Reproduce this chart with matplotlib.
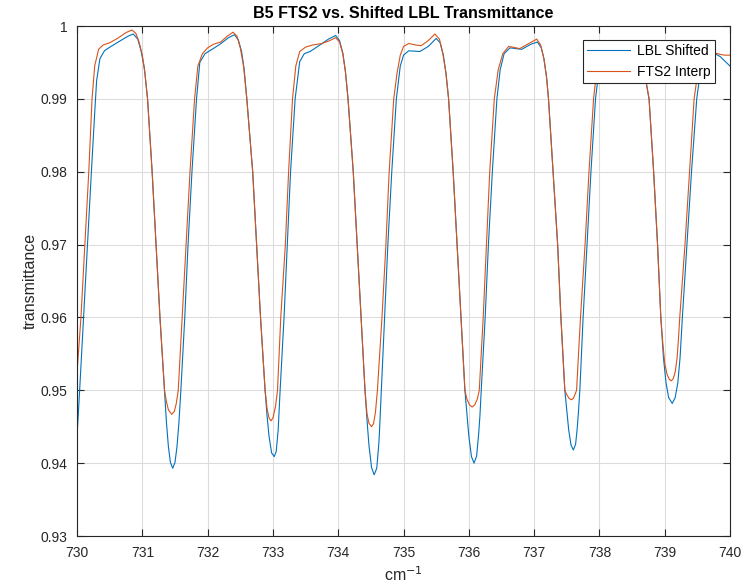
import numpy as np
import matplotlib
matplotlib.use("Agg")
import matplotlib.pyplot as plt

# LBL Shifted (blue): (wavenumber, transmittance)
lbl_pts = [
    (730.00, 0.9437), (730.04, 0.9500), (730.10, 0.9600), (730.16, 0.9700), (730.22, 0.9800),
    (730.27, 0.9880), (730.30, 0.9925), (730.35, 0.9955), (730.42, 0.9966), (730.52, 0.9972),
    (730.65, 0.9979), (730.78, 0.9986), (730.86, 0.9989), (730.93, 0.9982), (730.98, 0.9966),
    (731.03, 0.9943), (731.08, 0.9900), (731.15, 0.9800), (731.21, 0.9700), (731.27, 0.9600),
    (731.34, 0.9500), (731.37, 0.9455), (731.40, 0.9422), (731.43, 0.9401), (731.465, 0.9393),
    (731.50, 0.9401), (731.53, 0.9422), (731.56, 0.9455), (731.59, 0.9500), (731.65, 0.9600),
    (731.70, 0.9700), (731.76, 0.9800), (731.83, 0.9900), (731.88, 0.9950), (731.96, 0.9962),
    (732.05, 0.9967), (732.19, 0.9975), (732.32, 0.9984), (732.41, 0.9988), (732.47, 0.9981),
    (732.52, 0.9965), (732.56, 0.9940), (732.60, 0.9900), (732.69, 0.9800), (732.75, 0.9700),
    (732.81, 0.9600), (732.88, 0.9500), (732.91, 0.9465), (732.94, 0.9437), (732.98, 0.9414),
    (733.02, 0.9409), (733.05, 0.9416), (733.08, 0.9445), (733.11, 0.9500), (733.17, 0.9600),
    (733.22, 0.9700), (733.27, 0.9800), (733.34, 0.9900), (733.41, 0.9951), (733.48, 0.9962),
    (733.57, 0.9965), (733.72, 0.9974), (733.85, 0.9982), (733.96, 0.9987), (734.02, 0.9980),
    (734.07, 0.9963), (734.11, 0.9938), (734.15, 0.9900), (734.23, 0.9800), (734.29, 0.9700),
    (734.35, 0.9600), (734.41, 0.9500), (734.44, 0.9460), (734.47, 0.9425), (734.51, 0.9394),
    (734.55, 0.9384), (734.59, 0.9393), (734.62, 0.9425), (734.63, 0.9440), (734.66, 0.9500),
    (734.71, 0.9600), (734.76, 0.9700), (734.82, 0.9800), (734.89, 0.9900), (734.95, 0.9945),
    (735.00, 0.9960), (735.08, 0.9966), (735.25, 0.9965), (735.38, 0.9972), (735.50, 0.9983),
    (735.56, 0.9977), (735.61, 0.9960), (735.65, 0.9935), (735.69, 0.9900), (735.76, 0.9800),
    (735.82, 0.9700), (735.88, 0.9600), (735.94, 0.9500), (735.97, 0.9468), (736.00, 0.9437),
    (736.04, 0.9409), (736.08, 0.9400), (736.12, 0.9410), (736.15, 0.9440), (736.17, 0.9465),
    (736.19, 0.9500), (736.25, 0.9600), (736.30, 0.9700), (736.36, 0.9800), (736.43, 0.9900),
    (736.48, 0.9940), (736.54, 0.9962), (736.63, 0.9970), (736.81, 0.9968), (736.95, 0.9975),
    (737.05, 0.9978), (737.11, 0.9970), (737.15, 0.9955), (737.19, 0.9930), (737.22, 0.9900),
    (737.29, 0.9800), (737.36, 0.9700), (737.41, 0.9600), (737.47, 0.9500), (737.50, 0.9472),
    (737.53, 0.9445), (737.565, 0.9425), (737.60, 0.9418), (737.635, 0.9426), (737.66, 0.9448),
    (737.68, 0.9472), (737.70, 0.9500), (737.75, 0.9600), (737.81, 0.9700), (737.87, 0.9800),
    (737.94, 0.9900), (738.00, 0.9945), (738.08, 0.9958), (738.20, 0.9963), (738.35, 0.9968),
    (738.50, 0.9974), (738.58, 0.9976), (738.63, 0.9968), (738.67, 0.9950), (738.71, 0.9925),
    (738.76, 0.9900), (738.83, 0.9800), (738.89, 0.9700), (738.94, 0.9600), (738.98, 0.9545),
    (739.02, 0.9510), (739.06, 0.9490), (739.115, 0.9482), (739.16, 0.9490), (739.20, 0.9510),
    (739.235, 0.9545), (739.27, 0.9600), (739.34, 0.9700), (739.41, 0.9800), (739.49, 0.9900),
    (739.55, 0.9940), (739.62, 0.9955), (739.70, 0.9960), (739.77, 0.9962), (739.85, 0.9958),
    (739.92, 0.9952), (740.00, 0.9945),
]

# FTS2 Interp (orange)
fts_pts = [
    (730.00, 0.9524), (730.06, 0.9600), (730.12, 0.9700), (730.18, 0.9800), (730.23, 0.9900),
    (730.27, 0.9945), (730.33, 0.9968), (730.40, 0.9974), (730.50, 0.9977), (730.62, 0.9983),
    (730.75, 0.9991), (730.84, 0.99945), (730.90, 0.9990), (730.95, 0.9978), (731.00, 0.9960),
    (731.04, 0.9935), (731.08, 0.9900), (731.15, 0.9800), (731.21, 0.9700), (731.27, 0.9600),
    (731.34, 0.9500), (731.37, 0.9484), (731.40, 0.9473), (731.45, 0.9467), (731.49, 0.9471),
    (731.52, 0.9482), (731.55, 0.9500), (731.61, 0.9600), (731.67, 0.9700), (731.73, 0.9800),
    (731.80, 0.9900), (731.85, 0.9945), (731.92, 0.9962), (732.00, 0.9970), (732.09, 0.9975),
    (732.20, 0.9978), (732.30, 0.9986), (732.39, 0.99915), (732.45, 0.9986), (732.50, 0.9970),
    (732.55, 0.9945), (732.60, 0.9900), (732.69, 0.9800), (732.75, 0.9700), (732.81, 0.9600),
    (732.88, 0.9500), (732.91, 0.9475), (732.94, 0.9462), (732.97, 0.9458), (733.00, 0.9462),
    (733.04, 0.9478), (733.07, 0.9500), (733.12, 0.9600), (733.19, 0.9700), (733.24, 0.9800),
    (733.30, 0.9900), (733.35, 0.9945), (733.41, 0.9965), (733.50, 0.9971), (733.61, 0.9974),
    (733.75, 0.9976), (733.87, 0.9980), (733.96, 0.9984), (734.02, 0.9978), (734.07, 0.9962),
    (734.11, 0.9937), (734.15, 0.9900), (734.23, 0.9800), (734.29, 0.9700), (734.35, 0.9600),
    (734.41, 0.9500), (734.44, 0.9468), (734.47, 0.9455), (734.51, 0.9450), (734.54, 0.9454),
    (734.57, 0.9470), (734.60, 0.9500), (734.67, 0.9600), (734.73, 0.9700), (734.78, 0.9800),
    (734.85, 0.9900), (734.90, 0.9935), (734.95, 0.9960), (735.00, 0.9972), (735.08, 0.9976),
    (735.18, 0.9974), (735.27, 0.9973), (735.38, 0.9980), (735.48, 0.9989), (735.55, 0.9982),
    (735.60, 0.9963), (735.65, 0.9935), (735.69, 0.9900), (735.76, 0.9800), (735.82, 0.9700),
    (735.88, 0.9600), (735.94, 0.9500), (735.97, 0.9488), (736.01, 0.9480), (736.05, 0.9477),
    (736.09, 0.9480), (736.13, 0.9488), (736.16, 0.9500), (736.22, 0.9600), (736.27, 0.9700),
    (736.32, 0.9800), (736.39, 0.9900), (736.45, 0.9940), (736.52, 0.9962), (736.61, 0.9972),
    (736.78, 0.9969), (736.92, 0.9976), (737.04, 0.9982), (737.10, 0.9974), (737.15, 0.9955),
    (737.19, 0.9930), (737.22, 0.9900), (737.29, 0.9800), (737.36, 0.9700), (737.41, 0.9600),
    (737.47, 0.9500), (737.50, 0.9494), (737.535, 0.9489), (737.57, 0.9487), (737.60, 0.9489),
    (737.625, 0.9494), (737.65, 0.9500), (737.71, 0.9600), (737.78, 0.9700), (737.84, 0.9800),
    (737.91, 0.9900), (737.97, 0.9948), (738.05, 0.9963), (738.20, 0.9968), (738.35, 0.9972),
    (738.50, 0.9977), (738.57, 0.9979), (738.63, 0.9970), (738.67, 0.9950), (738.71, 0.9926),
    (738.76, 0.9900), (738.83, 0.9800), (738.89, 0.9700), (738.94, 0.9600), (738.97, 0.9565),
    (739.00, 0.9537), (739.035, 0.9522), (739.07, 0.9515), (739.10, 0.9513), (739.13, 0.9516),
    (739.16, 0.9525), (739.19, 0.9545), (739.21, 0.9570), (739.23, 0.9600), (739.31, 0.9700),
    (739.38, 0.9800), (739.45, 0.9900), (739.52, 0.9945), (739.60, 0.9958), (739.70, 0.9962),
    (739.77, 0.9963), (739.85, 0.9961), (739.92, 0.9960), (740.00, 0.9960),
]

x_ticks = [730, 731, 732, 733, 734, 735, 736, 737, 738, 739, 740]
y_ticks = [0.93, 0.94, 0.95, 0.96, 0.97, 0.98, 0.99, 1.0]
y_tick_labels = ['0.93', '0.94', '0.95', '0.96', '0.97', '0.98', '0.99', '1']

plt.rcParams['font.family'] = ['Liberation Sans', 'DejaVu Sans']
ax_col = '#262626'

lbl_x, lbl_y = zip(*lbl_pts)
fts_x, fts_y = zip(*fts_pts)

fig = plt.figure(figsize=(7.53, 5.83), dpi=100)
ax = fig.add_axes([0.1023, 0.0806, 0.8672, 0.8748])

ax.plot(lbl_x, lbl_y, color='#0072BD', lw=0.8, label='LBL Shifted')
ax.plot(fts_x, fts_y, color='#D95319', lw=0.8, label='FTS2 Interp')

ax.set_xlim(730, 740)
ax.set_ylim(0.93, 1.0)
ax.set_xticks(x_ticks)
ax.set_yticks(y_ticks)
ax.set_yticklabels(y_tick_labels)
ax.tick_params(direction='in', top=True, right=True, length=5, width=0.8,
               colors=ax_col, labelsize=10, pad=7)
for s in ax.spines.values():
    s.set_color(ax_col)
    s.set_linewidth(0.8)
ax.grid(True, color='#dcdcdc', lw=0.8)
ax.set_axisbelow(True)

ax.set_title('B5 FTS2 vs. Shifted LBL Transmittance', fontsize=11.6,
             fontweight='bold', color='black', pad=6)
ax.set_xlabel('cm$^{-1}$', fontsize=11.5, color=ax_col, labelpad=4)
ax.set_ylabel('transmittance', fontsize=11.5, color=ax_col, labelpad=2)

leg = ax.legend(loc='upper right', bbox_to_anchor=(0.977, 0.9725), fontsize=10,
                fancybox=False, framealpha=1, edgecolor=ax_col,
                handlelength=3.1, borderaxespad=0, borderpad=0.3,
                labelspacing=0.5, handletextpad=0.5)
leg.get_frame().set_linewidth(0.8)

fig.savefig('out.png', dpi=100)
